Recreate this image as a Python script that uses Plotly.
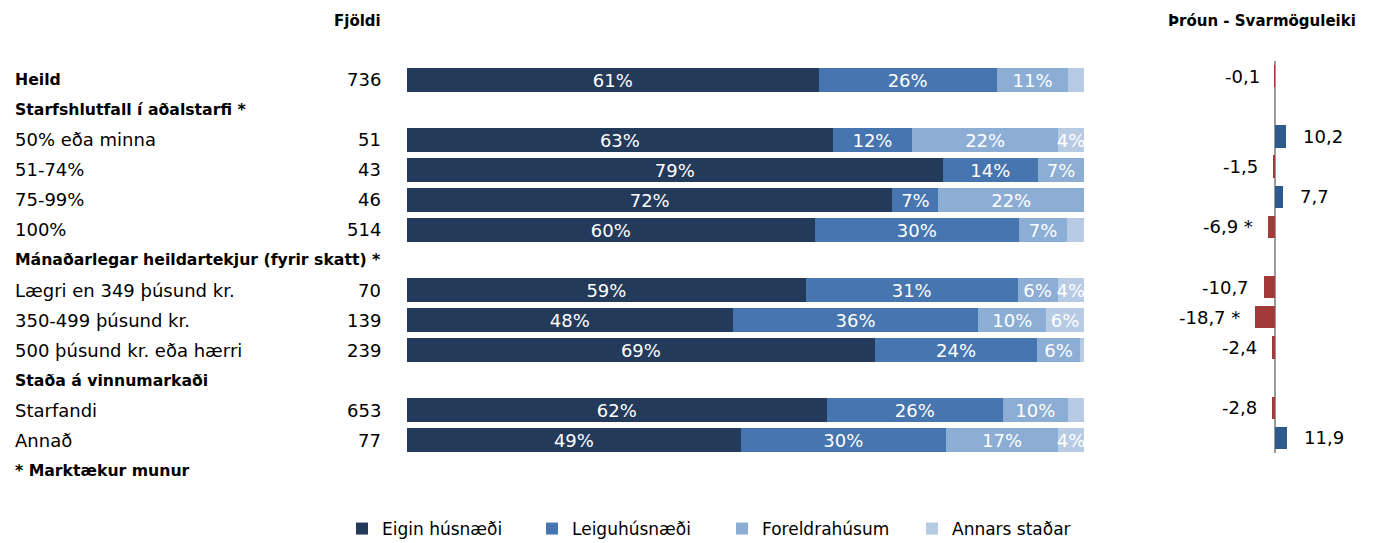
import plotly.graph_objects as go

W, H = 1375, 543
# page body has an 8px margin; positions below are given in window pixels
OFF = 8

rows = ["Heild",
        "Starfshlutfall í aðalstarfi *",
        "50% eða minna",
        "51-74%",
        "75-99%",
        "100%",
        "Mánaðarlegar heildartekjur (fyrir skatt) *",
        "Lægri en 349 þúsund kr.",
        "350-499 þúsund kr.",
        "500 þúsund kr. eða hærri",
        "Staða á vinnumarkaði",
        "Starfandi",
        "Annað",
        "* Marktækur munur"]
bold_rows = ["Heild",
             "Starfshlutfall í aðalstarfi *",
             "Mánaðarlegar heildartekjur (fyrir skatt) *",
             "Staða á vinnumarkaði",
             "* Marktækur munur"]

fjoldi = [736, None, 51, 43, 46, 514, None, 70, 139, 239, None, 653, 77, None]

eigin = [60.8, None, 62.9, 79.1, 71.7, 60.2, None, 58.9, 48.1, 69.1, None, 62.0, 49.3, None]
leigu = [26.3, None, 11.7, 14.1, 6.8, 30.2, None, 31.3, 36.3, 24.0, None, 26.0, 30.3, None]
foreldra = [10.6, None, 21.6, 6.8, 21.5, 7.1, None, 5.9, 10.0, 6.3, None, 9.6, 16.6, None]
annars = [2.3, None, 3.8, 0, 0, 2.5, None, 3.9, 5.6, 0.6, None, 2.4, 3.8, None]

series = [("Eigin húsnæði", eigin, "#243a5b"),
          ("Leiguhúsnæði", leigu, "#4675b0"),
          ("Foreldrahúsum", foreldra, "#8cadd4"),
          ("Annars staðar", annars, "#b7cbe5")]

# þróun - svarmöguleiki (no footnote row)
throun_rows = rows[:13]
throun = [-0.1, None, 10.2, -1.5, 7.7, -6.9, None, -10.7, -18.7, -2.4, None, -2.8, 11.9]
throun_txt = ["-0,1", "", "10,2", "-1,5", "7,7", "-6,9 *", "", "-10,7", "-18,7 *",
              "-2,4", "", "-2,8", "11,9"]

FONT = "'DejaVu Sans', sans-serif"


def px_x(p):
    return min(max((p - OFF) / W, 0), 1)


def px_y(p):
    return min(max(1 - (p - OFF) / H, 0), 1)


fig = go.Figure()

for name, vals, col in series:
    txt = [f"{v:.0f}%" if v is not None and v >= 3.5 else "" for v in vals]
    fig.add_trace(go.Bar(
        x=vals, y=rows, name=name, orientation="h",
        marker=dict(color=col, line=dict(width=0)),
        text=txt, textposition="inside", insidetextanchor="middle",
        constraintext="none",
        textfont=dict(color="white", size=18, family=FONT),
        xaxis="x", yaxis="y", hoverinfo="skip",
    ))

bar_cols = ["#a33a3a" if v is not None and v < 0 else "#2e5a8c" for v in throun]
fig.add_trace(go.Bar(
    x=throun, y=throun_rows, orientation="h", showlegend=False,
    marker=dict(color=bar_cols, line=dict(width=0)),
    xaxis="x2", yaxis="y2", hoverinfo="skip",
))

ann = []
for r, n in zip(rows, fjoldi):
    bold = r in bold_rows
    ann.append(dict(x=px_x(13), xref="paper", y=r, yref="y", xanchor="left",
                    text=f"<b>{r}</b>" if bold else r, showarrow=False,
                    font=dict(size=15.7 if bold else 18, color="black", family=FONT)))
    if n is not None:
        ann.append(dict(x=px_x(383), xref="paper", y=r, yref="y", xanchor="right",
                        text=str(n), showarrow=False,
                        font=dict(size=18, color="black", family=FONT)))

for r, v, t in zip(throun_rows, throun, throun_txt):
    if v is None:
        continue
    neg = v < 0
    ann.append(dict(x=min(v, 0) if neg else v, xref="x2", y=r, yref="y2",
                    xanchor="right" if neg else "left",
                    xshift=-13 if neg else 15,
                    text=t, showarrow=False,
                    font=dict(size=18, color="black", family=FONT)))

ann.append(dict(x=px_x(383), xref="paper", y=px_y(21), yref="paper",
                xanchor="right", yanchor="middle",
                text="<b>Fjöldi</b>", showarrow=False,
                font=dict(size=15, color="black", family=FONT)))
ann.append(dict(x=px_x(1262), xref="paper", y=px_y(21), yref="paper",
                xanchor="center", yanchor="middle",
                text="<b>Þróun - Svarmöguleiki</b>", showarrow=False,
                font=dict(size=15, color="black", family=FONT)))

fig.update_layout(
    width=W, height=H,
    margin=dict(l=0, r=0, t=0, b=0),
    plot_bgcolor="white", paper_bgcolor="white",
    barmode="stack", bargap=0.18,
    font=dict(family=FONT, size=16, color="black"),
    xaxis=dict(domain=[px_x(407), px_x(1084)], range=[0, 100], visible=False,
               fixedrange=True),
    yaxis=dict(domain=[px_y(485), px_y(65)], categoryorder="array",
               categoryarray=rows, autorange="reversed", visible=False),
    xaxis2=dict(domain=[px_x(1150), px_x(1367)], range=[-119, 87.6],
                showgrid=False, showticklabels=False, zeroline=True,
                zerolinecolor="#9a9a9a", zerolinewidth=2, anchor="y2"),
    yaxis2=dict(domain=[px_y(453), px_y(61)], categoryorder="array",
                categoryarray=throun_rows, autorange="reversed", visible=False,
                anchor="x2"),
    annotations=ann,
    legend=dict(orientation="h", x=px_x(722), xanchor="center", y=px_y(529),
                yanchor="middle", traceorder="normal",
                entrywidth=145, entrywidthmode="pixels",
                font=dict(size=17, family=FONT, color="black")),
)
# thinner bars in the right-hand panel
fig.update_traces(width=0.74, selector=dict(xaxis="x2"))

fig.write_html("out.html")
